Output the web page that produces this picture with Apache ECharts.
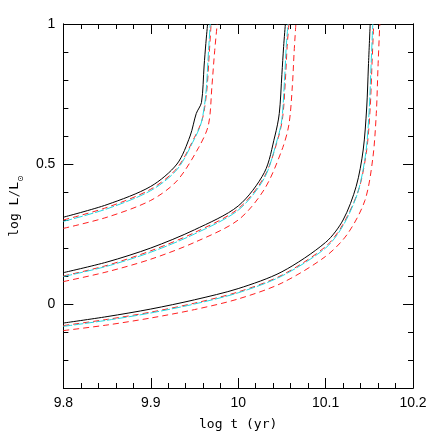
<!DOCTYPE html>
<html><head><meta charset="utf-8">
<script src="https://cdn.jsdelivr.net/npm/echarts@6/dist/echarts.min.js"></script>
<style>html,body{margin:0;background:#fff}#c{width:436px;height:436px}</style>
</head><body><div id="c"></div>
<script>
// three tracks, each: black model, cyan model, red upper, red lower
var black1 = [[9.80,0.31],[9.85,0.355],[9.90,0.42],[9.93,0.50],[9.945,0.60],[9.952,0.68],[9.958,0.72],[9.961,0.85],[9.963,0.93],[9.965,1.0]];
var cyan1  = [[9.80,0.295],[9.85,0.34],[9.90,0.405],[9.93,0.48],[9.95,0.59],[9.958,0.65],[9.963,0.75],[9.966,0.9],[9.968,1.0]];
var redA1  = [[9.80,0.30],[9.85,0.345],[9.90,0.41],[9.93,0.485],[9.95,0.595],[9.959,0.66],[9.964,0.76],[9.967,0.9],[9.969,1.0]];
var redB1  = [[9.80,0.27],[9.85,0.31],[9.90,0.37],[9.93,0.44],[9.955,0.56],[9.966,0.64],[9.970,0.78],[9.973,0.9],[9.976,1.0]];

var black2 = [[9.80,0.112],[9.85,0.15],[9.90,0.20],[9.95,0.265],[10.00,0.35],[10.03,0.47],[10.042,0.60],[10.047,0.68],[10.050,0.82],[10.052,0.92],[10.054,1.0]];
var cyan2  = [[9.80,0.098],[9.85,0.135],[9.90,0.185],[9.95,0.25],[10.00,0.335],[10.03,0.45],[10.045,0.59],[10.050,0.66],[10.053,0.8],[10.055,0.92],[10.057,1.0]];
var redA2  = [[9.80,0.10],[9.85,0.138],[9.90,0.19],[9.95,0.255],[10.00,0.34],[10.03,0.455],[10.046,0.595],[10.051,0.67],[10.054,0.8],[10.056,0.92],[10.058,1.0]];
var redB2  = [[9.80,0.08],[9.85,0.115],[9.90,0.16],[9.95,0.22],[10.00,0.30],[10.03,0.41],[10.05,0.55],[10.058,0.64],[10.062,0.78],[10.064,0.9],[10.066,1.0]];

var black3 = [[9.80,-0.068],[9.85,-0.045],[9.90,-0.018],[9.95,0.015],[10.00,0.055],[10.05,0.115],[10.10,0.22],[10.12,0.30],[10.135,0.42],[10.143,0.55],[10.147,0.70],[10.149,0.85],[10.151,1.0]];
var cyan3  = [[9.80,-0.08],[9.85,-0.058],[9.90,-0.032],[9.95,0.0],[10.00,0.04],[10.05,0.10],[10.10,0.20],[10.12,0.28],[10.137,0.40],[10.146,0.54],[10.150,0.70],[10.152,0.85],[10.154,1.0]];
var redA3  = [[9.80,-0.077],[9.85,-0.055],[9.90,-0.029],[9.95,0.003],[10.00,0.043],[10.05,0.103],[10.10,0.205],[10.12,0.285],[10.138,0.41],[10.147,0.55],[10.151,0.70],[10.153,0.85],[10.155,1.0]];
var redB3  = [[9.80,-0.095],[9.85,-0.075],[9.90,-0.05],[9.95,-0.02],[10.00,0.018],[10.05,0.075],[10.10,0.17],[10.125,0.25],[10.145,0.37],[10.154,0.52],[10.158,0.68],[10.160,0.85],[10.162,1.0]];

var xTicks = [9.8, 9.9, 10, 10.1, 10.2];
var yTicks = [0, 0.5, 1];

var font = 'Liberation Sans';
function line(d, color, dash) {
  return {type:'line', data:d, showSymbol:false, smooth:0.3, silent:true,
    lineStyle:{color:color, width:1, type:dash}};
}
var series = [];
[[black1,cyan1,redA1,redB1],[black2,cyan2,redA2,redB2],[black3,cyan3,redA3,redB3]].forEach(function(g){
  series.push(line(g[0],'#000','solid'));
  series.push(line(g[2],'#ff2020',[6,4]));
  series.push(line(g[1],'#22d8e0',[9,2]));
  series.push(line(g[3],'#ff2020',[6,4]));
});

function xa(pos, show, name) {
  return {type:'value', min:9.8, max:10.2, interval:0.1, position:pos,
    name:name, nameLocation:'middle', nameGap:30, nameTextStyle:{fontFamily:'DejaVu Sans Mono', fontSize:13, color:'#000'},
    axisLine:{show:true, onZero:false, lineStyle:{color:'#000', width:1}},
    axisTick:{show:true, inside:true, length:10, lineStyle:{color:'#000'}},
    minorTick:{show:true, splitNumber:5, length:5, lineStyle:{color:'#000'}},
    axisLabel:{show:show, fontFamily:font, fontSize:14, color:'#000', margin:8,
      formatter:function(v){ var r=Math.round(v*10)/10; return xTicks.indexOf(r)>=0 ? String(r) : ''; }},
    splitLine:{show:false}};
}
function ya(pos, show, major, name) {
  return {type:'value', min:-0.3, max:1, interval:0.1, position:pos,
    name:name, nameLocation:'middle', nameGap:28,
    nameTextStyle:{fontFamily:'DejaVu Sans Mono', fontSize:13, color:'#000',
      rich:{s:{fontFamily:'DejaVu Sans', fontSize:8, verticalAlign:'bottom', padding:[0,0,-4,0]}}},
    axisLine:{show:true, onZero:false, lineStyle:{color:'#000', width:1}},
    axisTick:major ? {show:true, inside:true, length:10, customValues:yTicks, lineStyle:{color:'#000'}}
                   : {show:true, inside:true, length:5, lineStyle:{color:'#000'}},
    axisLabel:major ? {show:show, customValues:yTicks, fontFamily:font, fontSize:14, color:'#000', margin:8}
                    : {show:false},
    splitLine:{show:false}};
}
var chart = echarts.init(document.getElementById('c'));
chart.setOption({
  animation:false,
  grid:{left:47, right:23, top:24, bottom:48},
  xAxis:[xa('bottom', true, 'log t (yr)'), xa('top', false, '')],
  yAxis:[ya('left', false, false, ''), ya('right', false, false, ''),
         ya('left', true, true, 'log L/L{s|⊙}'), ya('right', false, true, '')],
  series:series
});
</script></body></html>
